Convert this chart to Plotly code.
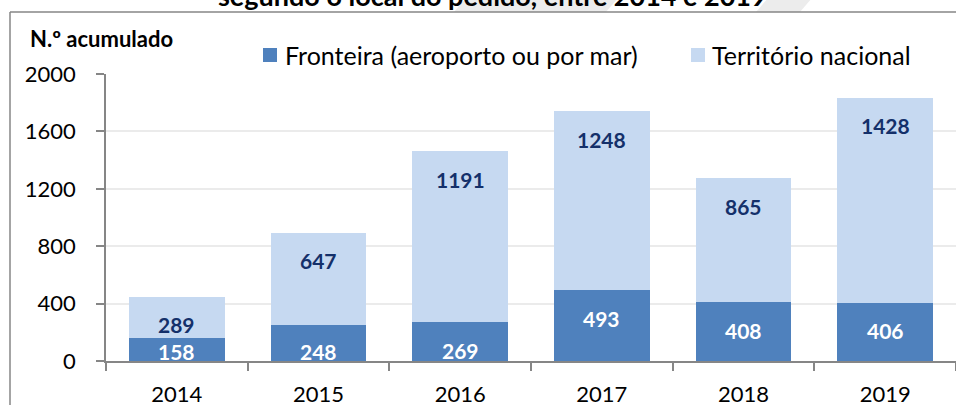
import plotly.graph_objects as go

years = ["2014", "2015", "2016", "2017", "2018", "2019"]
fronteira = [158, 248, 269, 493, 408, 406]
territorio = [289, 647, 1191, 1248, 865, 1428]
y_ticks = [0, 400, 800, 1200, 1600, 2000]
series_names = ["Fronteira (aeroporto ou por mar)", "Território nacional"]

DARK = "#4F81BD"
LIGHT = "#C6D9F1"
NAVY = "#14306A"
AXIS = "#868686"
GRID = "#EBEBEB"
FONT = "Lato"

W, H = 956, 405
L, R, T, B = 106, 0, 74, 44
PW, PH = W - L - R, H - T - B


def px(x):
    return (x - L) / PW


def py(y):
    return (H - B - y) / PH


fig = go.Figure()
fig.add_trace(go.Bar(x=years, y=fronteira, name=series_names[0],
                     marker=dict(color=DARK, line=dict(width=0)), showlegend=False))
fig.add_trace(go.Bar(x=years, y=territorio, name=series_names[1],
                     marker=dict(color=LIGHT, line=dict(width=0)), showlegend=False))

annotations = []
for i, (f, t) in enumerate(zip(fronteira, territorio)):
    annotations.append(dict(x=i, y=max(f - 195, 63), text=str(f), showarrow=False,
                            font=dict(family=FONT, size=21, color="white", weight="bold"),
                            xref="x", yref="y"))
    annotations.append(dict(x=i, y=f + t - 195, text=str(t), showarrow=False,
                            font=dict(family=FONT, size=21, color=NAVY, weight="bold"),
                            xref="x", yref="y"))

annotations.append(dict(x=px(28), y=py(39), xref="paper", yref="paper", xanchor="left",
                        yanchor="middle", text="N.º acumulado", showarrow=False,
                        font=dict(family=FONT, size=22, color="black", weight="bold")))
annotations.append(dict(x=px(492), y=py(-5), xref="paper", yref="paper", xanchor="center",
                        yanchor="middle", text="segundo o local do pedido, entre 2014 e 2019",
                        showarrow=False,
                        font=dict(family=FONT, size=27, color="black", weight="bold")))

# manual legend
legend_items = [(263, 283, DARK, series_names[0]), (691, 710, LIGHT, series_names[1])]
shapes = [
    # decorative header bands
    dict(type="path", xref="paper", yref="paper", layer="below",
         path=f"M {px(466)} {py(-2)} L {px(618)} {py(-2)} L {px(606)} {py(12)} L {px(454)} {py(12)} Z",
         fillcolor="#ECECEC", line=dict(width=0)),
    dict(type="path", xref="paper", yref="paper", layer="below",
         path=f"M {px(768)} {py(-2)} L {px(812)} {py(-2)} L {px(800)} {py(12)} L {px(756)} {py(12)} Z",
         fillcolor="#ECECEC", line=dict(width=0)),
    # outer frame
    dict(type="line", xref="paper", yref="paper", x0=px(10), x1=px(957), y0=py(12), y1=py(12),
         line=dict(color=AXIS, width=1.5)),
    dict(type="line", xref="paper", yref="paper", x0=px(10), x1=px(10), y0=py(12), y1=py(406),
         line=dict(color=AXIS, width=1.5)),
]
for mx, tx, col, name in legend_items:
    shapes.append(dict(type="rect", xref="paper", yref="paper",
                       x0=px(mx), x1=px(mx + 14), y0=py(48), y1=py(62),
                       fillcolor=col, line=dict(width=0)))
    annotations.append(dict(x=px(tx), y=py(55), xref="paper", yref="paper", xanchor="left",
                            yanchor="middle", text=name, showarrow=False,
                            font=dict(family=FONT, size=25, color="black")))

fig.update_layout(
    width=W, height=H,
    margin=dict(l=L, r=R, t=T, b=B, autoexpand=False),
    barmode="stack", bargap=0.325,
    plot_bgcolor="white", paper_bgcolor="white",
    font=dict(family=FONT, size=22, color="black"),
    showlegend=False,
    annotations=annotations,
    shapes=shapes,
)
fig.update_xaxes(type="category", range=[-0.5, 5.5], showline=True, linecolor=AXIS,
                 linewidth=1.5, ticks="outside", tickson="boundaries", ticklen=8,
                 tickcolor=AXIS, tickwidth=1.5, showgrid=False, ticklabelstandoff=13,
                 automargin=False, tickangle=0,
                 tickfont=dict(family=FONT, size=22, color="black"))
fig.update_yaxes(range=[0, 2000], tickvals=y_ticks, showline=True, linecolor=AXIS,
                 linewidth=1.5, ticks="outside", ticklen=8, tickcolor=AXIS, tickwidth=1.5,
                 showgrid=True, gridcolor=GRID, gridwidth=1.5, zeroline=False,
                 ticklabelstandoff=16, automargin=False,
                 tickfont=dict(family=FONT, size=22, color="black"))

fig.write_html("out.html", config={"displayModeBar": False},
               post_script="document.body.style.margin='0';document.body.style.overflow='hidden';")
